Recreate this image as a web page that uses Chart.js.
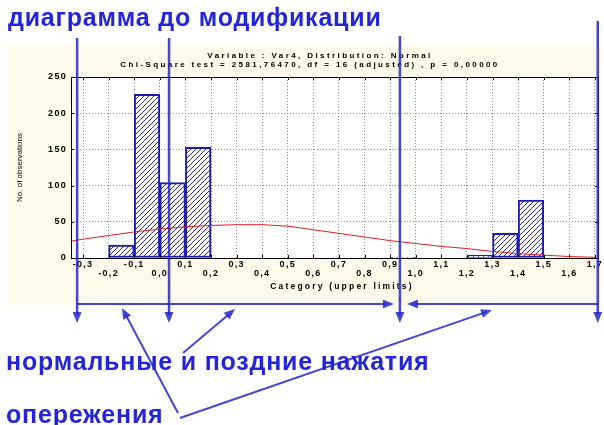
<!DOCTYPE html>
<html>
<head>
<meta charset="utf-8">
<script src="https://cdn.jsdelivr.net/npm/chart.js@4"></script>
<style>
  html, body { margin: 0; padding: 0; background: #ffffff; overflow: hidden; }
  #wrap { width: 604px; height: 425px; position: relative; }
</style>
</head>
<body>
<div id="wrap"><canvas id="c" width="604" height="425"></canvas></div>
<script>
// Histogram of Var4: upper limit of each 0.1-wide class and its count
const binUpper  = [-0.1, 0.0, 0.1, 0.2, 1.0, 1.3, 1.4, 1.5];
const binCounts = [18, 226, 104, 153, 1, 4, 34, 80];
const binWidth = 0.1;

// Expected normal frequencies (fitted curve)
const curveX = [-0.35, -0.3, -0.2, -0.1, 0.0, 0.1, 0.2, 0.3, 0.4, 0.5, 0.6, 0.7, 0.8, 0.9, 1.0, 1.1, 1.2, 1.3, 1.4, 1.5, 1.6, 1.7];
const curveY = [23, 26, 31, 36, 40, 43, 45, 46, 46, 44, 39, 34, 29, 24, 20, 16, 13, 9, 6, 4, 2, 1];

// Axis ticks
const xTickValues = [-0.3, -0.2, -0.1, 0.0, 0.1, 0.2, 0.3, 0.4, 0.5, 0.6, 0.7, 0.8, 0.9, 1.0, 1.1, 1.2, 1.3, 1.4, 1.5, 1.6, 1.7];
const xTickLabels = ['-0,3', '-0,2', '-0,1', '0,0', '0,1', '0,2', '0,3', '0,4', '0,5', '0,6', '0,7', '0,8', '0,9', '1,0', '1,1', '1,2', '1,3', '1,4', '1,5', '1,6', '1,7'];
const yTickValues = [0, 50, 100, 150, 200, 250];

// Titles
const titleLines = ['Variable : Var4, Distribution: Normal',
                    'Chi-Square test = 2581,76470, df = 16 (adjusted) , p = 0,00000'];
const xTitle = 'Category (upper limits)';
const yTitle = 'No. of observations';

// Boundaries marked on the category axis and the captions
const markerX = [-0.323, 0.036, 0.938, 1.711];
const headline = 'диаграмма до модификации';
const captionNormal = 'нормальные и поздние нажатия';
const captionEarly = 'опережения';

const canvas = document.getElementById('c');
const ctx = canvas.getContext('2d');

function makeHatch() {
  const t = document.createElement('canvas');
  t.width = 5; t.height = 5;
  const g = t.getContext('2d');
  g.fillStyle = '#ffffff';
  g.fillRect(0, 0, 5, 5);
  g.strokeStyle = '#2b2bb0';
  g.lineWidth = 1;
  g.beginPath();
  g.moveTo(-1, 6); g.lineTo(6, -1);
  g.moveTo(-1, 1); g.lineTo(1, -1);
  g.moveTo(4, 6); g.lineTo(6, 4);
  g.stroke();
  return ctx.createPattern(t, 'repeat');
}

const chartFont = 'Liberation Sans, Arial, sans-serif';
Chart.defaults.font.family = chartFont;
Chart.defaults.color = '#000000';

const panelPlugin = {
  id: 'panel',
  beforeDraw(chart) {
    const c = chart.ctx, a = chart.chartArea;
    c.save();
    c.fillStyle = '#fdfaec';
    c.fillRect(8, 45, 592, 260);
    c.fillStyle = '#ffffff';
    c.fillRect(a.left, a.top, a.right - a.left, a.bottom - a.top);
    c.restore();
    c.letterSpacing = '1.3px';
  },
  afterDatasetsDraw(chart) {
    const c = chart.ctx, a = chart.chartArea;
    const xs = chart.scales.x, ys = chart.scales.y;
    c.save();
    c.strokeStyle = '#000000';
    c.lineWidth = 1;
    c.beginPath();
    xs.ticks.forEach(t => {
      const px = Math.round(xs.getPixelForValue(t.value)) + 0.5;
      c.moveTo(px, a.top); c.lineTo(px, a.top + 3);
      c.moveTo(px, a.bottom); c.lineTo(px, a.bottom - 3);
    });
    ys.ticks.forEach(t => {
      const py = Math.round(ys.getPixelForValue(t.value)) + 0.5;
      c.moveTo(a.left, py); c.lineTo(a.left + 3, py);
      c.moveTo(a.right, py); c.lineTo(a.right - 3, py);
    });
    c.stroke();
    c.strokeRect(Math.round(a.left) + 0.5, Math.round(a.top) + 0.5,
                 Math.round(a.right - a.left), Math.round(a.bottom - a.top));
    c.restore();
  },
  afterDraw(chart) {
    const c = chart.ctx, a = chart.chartArea;
    const xs = chart.scales.x;
    c.save();
    // chart titles
    c.letterSpacing = '2.4px';
    c.fillStyle = '#000000';
    c.font = 'bold 8px ' + chartFont;
    c.textAlign = 'center';
    c.textBaseline = 'middle';
    c.fillText(titleLines[0], 320, 56);
    c.fillText(titleLines[1], 310, 65);
    // x axis title
    c.letterSpacing = '2.2px';
    c.font = 'bold 8.5px ' + chartFont;
    c.fillText(xTitle, 342, 287);
    // y axis title
    c.letterSpacing = '0px';
    c.save();
    c.translate(20, (a.top + a.bottom) / 2);
    c.rotate(-Math.PI / 2);
    c.font = '8px ' + chartFont;
    c.fillText(yTitle, 0, 0);
    c.restore();

    // annotation arrows
    const blue = 'rgba(38, 38, 205, 0.85)';
    c.strokeStyle = blue;
    c.fillStyle = blue;
    c.lineWidth = 2.5;
    const head = (x1, y1, x2, y2, len, half) => {
      const ang = Math.atan2(y2 - y1, x2 - x1);
      c.beginPath();
      c.moveTo(x2, y2);
      c.lineTo(x2 - len * Math.cos(ang) + half * Math.sin(ang), y2 - len * Math.sin(ang) - half * Math.cos(ang));
      c.lineTo(x2 - len * Math.cos(ang) - half * Math.sin(ang), y2 - len * Math.sin(ang) + half * Math.cos(ang));
      c.closePath();
      c.fill();
    };
    const arrow = (x1, y1, x2, y2) => {
      const ang = Math.atan2(y2 - y1, x2 - x1);
      c.beginPath();
      c.moveTo(x1, y1);
      c.lineTo(x2 - 8 * Math.cos(ang), y2 - 8 * Math.sin(ang));
      c.stroke();
      head(x1, y1, x2, y2, 11, 4.5);
    };
    const tops = [38, 38, 36, 21];
    const mx = markerX.map(v => xs.getPixelForValue(v));
    mx.forEach((px, i) => arrow(px, tops[i], px, 323));
    // horizontal brackets
    c.lineWidth = 2;
    arrow(mx[0], 304, mx[2] - 6, 304);
    arrow(mx[3], 304, mx[2] + 7, 304);
    // pointers from the captions
    arrow(183, 353, 235, 309);
    arrow(178, 413, 122, 308);
    arrow(180, 418, 492, 310);

    // captions
    c.fillStyle = '#2424d8';
    c.font = 'bold 25px ' + chartFont;
    c.letterSpacing = '0.8px';
    c.textAlign = 'left';
    c.textBaseline = 'alphabetic';
    c.fillText(headline, 8, 26);
    c.fillText(captionNormal, 6, 370);
    c.fillText(captionEarly, 6, 423);
    c.restore();
    c.letterSpacing = '0px';
  }
};

new Chart(ctx, {
  data: {
    datasets: [
      {
        type: 'line',
        label: 'Expected Normal',
        data: curveX.map((x, i) => ({ x: x, y: curveY[i] })),
        borderColor: '#e02020',
        borderWidth: 1,
        pointRadius: 0,
        tension: 0,
        fill: false,
        order: 0
      },
      {
        type: 'bar',
        label: 'Var4',
        data: binUpper.map((u, i) => ({ x: u - binWidth / 2, y: binCounts[i] })),
        backgroundColor: makeHatch(),
        borderColor: '#1c1ca8',
        borderWidth: 2,
        borderSkipped: false,
        barPercentage: 1,
        categoryPercentage: 1,
        order: 1
      }
    ]
  },
  options: {
    responsive: false,
    animation: false,
    devicePixelRatio: 1,
    layout: { padding: { left: 0, right: 6, top: 77, bottom: 132 } },
    plugins: { legend: { display: false }, tooltip: { enabled: false }, title: { display: false } },
    scales: {
      x: {
        type: 'linear',
        offset: false,
        min: -0.347,
        max: 1.712,
        afterBuildTicks: s => { s.ticks = xTickValues.map(v => ({ value: v })); },
        afterFit: s => { s.height = 35; },
        ticks: {
          autoSkip: false,
          maxRotation: 0,
          padding: 2.5,
          font: { size: 9, weight: 'bold', lineHeight: '9px' },
          color: '#000000',
          callback: (v, i) => (i % 2 === 0 ? xTickLabels[i] : ['', xTickLabels[i]])
        },
        grid: { drawTicks: false, offset: false, color: 'rgba(110,110,110,0.8)', lineWidth: 1 },
        border: { display: false, dash: [1, 2] },
        title: { display: false }
      },
      y: {
        min: 0,
        max: 250,
        afterBuildTicks: s => { s.ticks = yTickValues.map(v => ({ value: v })); },
        afterFit: s => { s.width = 71; },
        ticks: { padding: 4, font: { size: 9, weight: 'bold' }, color: '#000000' },
        grid: { drawTicks: false, color: 'rgba(110,110,110,0.8)', lineWidth: 1 },
        border: { display: false, dash: [1, 2] }
      }
    }
  },
  plugins: [panelPlugin]
});
</script>
</body>
</html>
